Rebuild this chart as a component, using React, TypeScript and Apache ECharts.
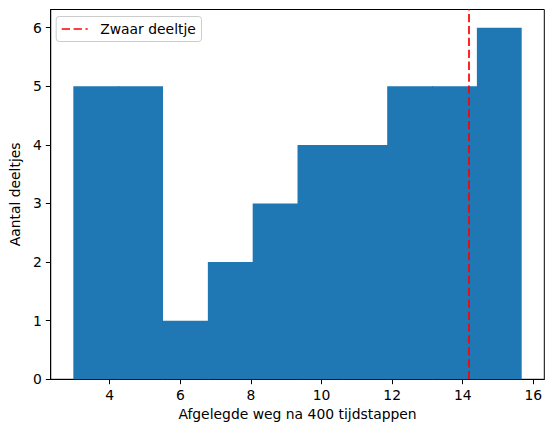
import React, { useEffect, useRef } from "react";
import * as echarts from "echarts";

const binEdges = [2.97, 4.24, 5.51, 6.78, 8.05, 9.32, 10.59, 11.86, 13.13, 14.4, 15.67];
const counts = [5, 5, 1, 2, 3, 4, 4, 5, 5, 6];
const heavyParticleX = 14.17;
const xTicks = [4, 6, 8, 10, 12, 14, 16];
const yTicks = [0, 1, 2, 3, 4, 5, 6];
const legendLabel = "Zwaar deeltje";
const xLabel = "Afgelegde weg na 400 tijdstappen";
const yLabel = "Aantal deeltjes";

const FONT = "DejaVu Sans";
const FS = 13.9;

export default function App() {
  const ref = useRef<HTMLDivElement>(null);
  useEffect(() => {
    if (!ref.current) return;
    const chart = echarts.init(ref.current, undefined, { renderer: "svg" });
    const data = counts.map((c, i) => [binEdges[i], binEdges[i + 1], c]);
    chart.setOption({
      animation: false,
      backgroundColor: "#ffffff",
      textStyle: { fontFamily: FONT },
      grid: {
        left: 48,
        right: 9.7,
        top: 9.5,
        bottom: 52.7,
        show: true,
        borderColor: "#000",
        borderWidth: 1,
        backgroundColor: "transparent",
      },
      xAxis: {
        type: "value",
        min: 2.33,
        max: 16.31,
        name: xLabel,
        nameLocation: "middle",
        nameGap: 27,
        nameTextStyle: { color: "#000", fontSize: FS, fontFamily: FONT },
        axisLine: { show: true, onZero: false, lineStyle: { color: "#000", width: 1 } },
        axisTick: { show: true, inside: false, length: 4.9, lineStyle: { color: "#000", width: 1 }, customValues: xTicks },
        axisLabel: { color: "#000", fontSize: FS, fontFamily: FONT, margin: 9, customValues: xTicks },
        splitLine: { show: false },
      },
      yAxis: {
        type: "value",
        min: 0,
        max: 6.31,
        name: yLabel,
        nameLocation: "middle",
        nameGap: 26,
        nameRotate: 90,
        nameTextStyle: { color: "#000", fontSize: FS, fontFamily: FONT },
        axisLine: { show: true, lineStyle: { color: "#000", width: 1 } },
        axisTick: { show: true, inside: false, length: 4.9, lineStyle: { color: "#000", width: 1 }, customValues: yTicks },
        axisLabel: { color: "#000", fontSize: FS, fontFamily: FONT, margin: 9, customValues: yTicks },
        splitLine: { show: false },
      },
      series: [
        {
          type: "custom",
          name: "hist",
          data,
          encode: { x: [0, 1], y: 2 },
          renderItem: (params: any, api: any) => {
            const i = params.dataIndex;
            const x0 = api.value(0);
            const x1 = api.value(1);
            const y = api.value(2);
            const p0 = api.coord([x0, y]);
            const p1 = api.coord([x1, 0]);
            const extR = i < counts.length - 1 && counts[i + 1] >= counts[i] ? 1 : 0;
            const extL = i > 0 && counts[i - 1] > counts[i] ? 1 : 0;
            return {
              type: "rect",
              shape: {
                x: p0[0] - extL,
                y: p0[1],
                width: p1[0] - p0[0] + extL + extR,
                height: p1[1] - p0[1],
              },
              style: { fill: "#1f77b4" },
            };
          },
          markLine: {
            silent: true,
            symbol: "none",
            label: { show: false },
            lineStyle: { color: "#ff0000", type: [8.3, 3.6], width: 1.7, opacity: 1 },
            data: [{ xAxis: heavyParticleX }],
          },
          z: 2,
        },
      ],
      graphic: [
        {
          type: "group",
          left: 55.7,
          top: 16,
          z: 100,
          children: [
            {
              type: "rect",
              shape: { x: 0, y: 0, width: 145.3, height: 25, r: 3 },
              style: { fill: "rgba(255,255,255,0.8)", stroke: "#cccccc", lineWidth: 1 },
            },
            {
              type: "line",
              shape: { x1: 5.5, y1: 12.5, x2: 31.5, y2: 12.5 },
              style: { stroke: "#ff0000", lineWidth: 1.7, lineDash: [8.3, 3.6] },
            },
            {
              type: "text",
              x: 44,
              y: 12.5,
              style: {
                text: legendLabel,
                fontSize: FS,
                fontFamily: FONT,
                fill: "#000",
                verticalAlign: "middle",
                align: "left",
              },
            },
          ],
        },
      ],
    });
    return () => chart.dispose();
  }, []);
  return (
    <div
      ref={ref}
      style={{ position: "fixed", left: 0, top: 0, width: 554, height: 432 }}
    />
  );
}
